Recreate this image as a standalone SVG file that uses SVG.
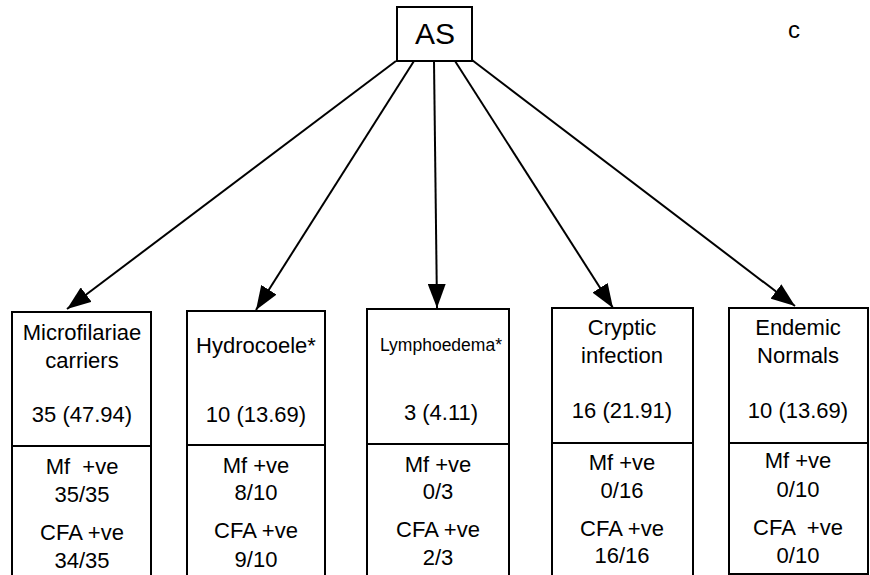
<svg xmlns="http://www.w3.org/2000/svg" width="870" height="575" viewBox="0 0 870 575">
<style>
text{font-family:"Liberation Sans",Arial,sans-serif;fill:#000;text-anchor:middle;font-size:22px}
.box{fill:#fff;stroke:#000;stroke-width:2}
.div{stroke:#000;stroke-width:2}
.conn{stroke:#000;stroke-width:2;fill:none}
.small{font-size:17.5px}
.big{font-size:30px}
.lbl{font-size:24px}
</style>
<defs>
<marker id="ah" viewBox="0 0 24 18" refX="24" refY="9" markerWidth="24" markerHeight="18" markerUnits="userSpaceOnUse" orient="auto">
<path d="M0,0 L24,9 L0,18 Z" fill="#000"/>
</marker>
</defs>
<rect width="870" height="575" fill="#fff"/>
<g id="connectors">
<line class="conn" x1="396" y1="61" x2="67" y2="309" marker-end="url(#ah)"/>
<line class="conn" x1="414" y1="61" x2="256" y2="310" marker-end="url(#ah)"/>
<line class="conn" x1="434" y1="61" x2="437" y2="308" marker-end="url(#ah)"/>
<line class="conn" x1="455" y1="61" x2="613" y2="308" marker-end="url(#ah)"/>
<line class="conn" x1="472" y1="60" x2="795" y2="306" marker-end="url(#ah)"/>
</g>
<g id="AS">
<rect class="box" x="397" y="7" width="75" height="54"/>
<text class="big" x="435" y="44">AS</text>
</g>
<g id="label-c">
<text class="lbl" x="794" y="38">c</text>
</g>
<g id="microfilariae">
<rect class="box" x="12" y="312" width="139" height="270"/>
<line class="div" x1="12" y1="446" x2="151" y2="446"/>
<text x="82" y="340">Microfilariae</text>
<text x="82" y="368">carriers</text>
<text x="82" y="422">35 (47.94)</text>
<text x="82" y="474" xml:space="preserve">Mf  +ve</text>
<text x="82" y="502">35/35</text>
<text x="82" y="540">CFA +ve</text>
<text x="82" y="568">34/35</text>
</g>
<g id="hydrocoele">
<rect class="box" x="187" y="311" width="138" height="270"/>
<line class="div" x1="187" y1="445" x2="325" y2="445"/>
<text x="256" y="353">Hydrocoele*</text>
<text x="256" y="422">10 (13.69)</text>
<text x="256" y="473">Mf +ve</text>
<text x="256" y="500">8/10</text>
<text x="256" y="538">CFA +ve</text>
<text x="256" y="567">9/10</text>
</g>
<g id="lymphoedema">
<rect class="box" x="367" y="309" width="142" height="272"/>
<line class="div" x1="367" y1="444" x2="509" y2="444"/>
<text class="small" x="441" y="351">Lymphoedema*</text>
<text x="441" y="420">3 (4.11)</text>
<text x="438" y="472">Mf +ve</text>
<text x="438" y="499">0/3</text>
<text x="438" y="537">CFA +ve</text>
<text x="438" y="565">2/3</text>
</g>
<g id="cryptic">
<rect class="box" x="552" y="308" width="141" height="273"/>
<line class="div" x1="552" y1="443" x2="693" y2="443"/>
<text x="622" y="335">Cryptic</text>
<text x="622" y="363">infection</text>
<text x="622" y="418">16 (21.91)</text>
<text x="622" y="470">Mf +ve</text>
<text x="622" y="498">0/16</text>
<text x="622" y="536">CFA +ve</text>
<text x="622" y="563">16/16</text>
</g>
<g id="endemic">
<rect class="box" x="729" y="308" width="139" height="266"/>
<line class="div" x1="729" y1="443" x2="868" y2="443"/>
<text x="798" y="335">Endemic</text>
<text x="798" y="363">Normals</text>
<text x="798" y="418">10 (13.69)</text>
<text x="798" y="468">Mf +ve</text>
<text x="798" y="497">0/10</text>
<text x="798" y="535" xml:space="preserve">CFA  +ve</text>
<text x="798" y="563">0/10</text>
</g>
</svg>
